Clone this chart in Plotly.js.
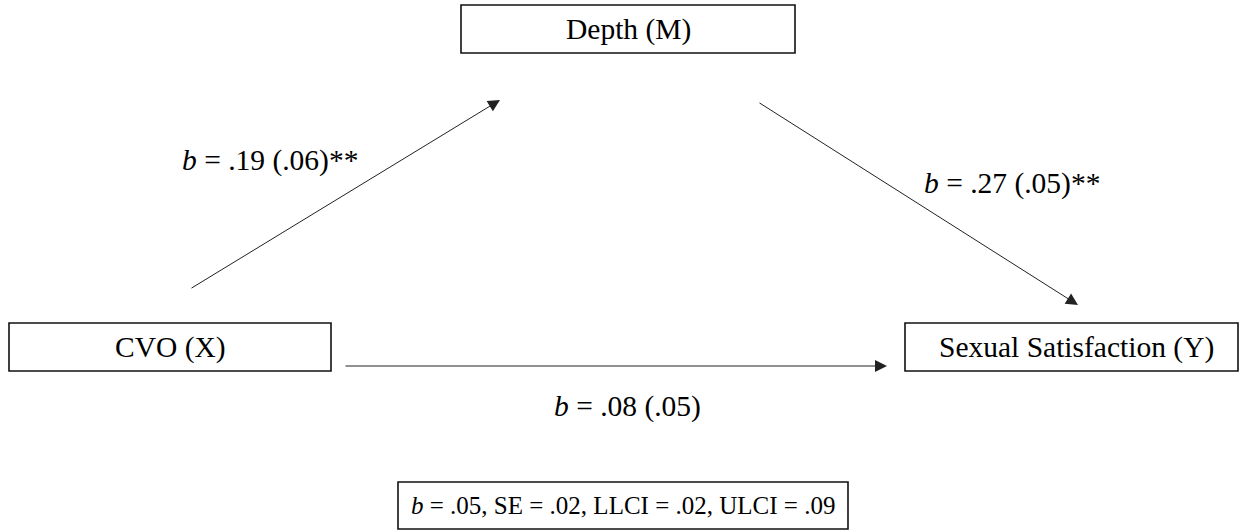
<!DOCTYPE html>
<html>
<head>
<meta charset="utf-8">
<script src="https://cdn.plot.ly/plotly-3.0.1.min.js"></script>
<style>html,body{margin:0;padding:0;background:#fff}#chart{width:1246px;height:531px}</style>
</head>
<body>
<div id="chart"></div>
<script>
// ---- data ----
const nodeLabels = ['CVO (X)', 'Depth (M)', 'Sexual Satisfaction (Y)'];
const pathFrom = [0, 1, 0];
const pathTo = [1, 2, 2];
const pathB = [0.19, 0.27, 0.08];
const pathSE = [0.06, 0.05, 0.05];
const pathSig = ['**', '**', ''];
const indirectStat = ['b', 'SE', 'LLCI', 'ULCI'];
const indirectVal = [0.05, 0.02, 0.02, 0.09];

// ---- layout geometry (pixels in a 1246x531 canvas) ----
const W = 1246, H = 531;
const boxes = [
  {x0: 9, x1: 331, y0: 323, y1: 371, dx: 0},
  {x0: 461, x1: 795, y0: 5, y1: 53, dx: 0},
  {x0: 905, x1: 1238, y0: 323, y1: 371, dx: 5}
];
const indirectBox = {x0: 398, x1: 848, y0: 482, y1: 529};
const arrows = [
  {tx: 190, ty: 289, hx: 500, hy: 100},
  {tx: 758, ty: 102, hx: 1078, hy: 305},
  {tx: 344, ty: 366, hx: 887, hy: 366}
];
const labelPos = [
  {x: 270, y: 160},
  {x: 1012, y: 183},
  {x: 627, y: 406}
];
const FAMILY = 'Liberation Serif';
const FONT = {family: FAMILY, size: 29.5, color: '#000'};
const FONT_SMALL = {family: FAMILY, size: 25, color: '#000'};

function fmt(v) { return v.toFixed(2).replace(/^0/, ''); }
function statName(s) { return s === 'b' ? '<i>b</i>' : s; }

const shapes = [];
const annotations = [];

boxes.forEach((b, i) => {
  shapes.push({type: 'rect', xref: 'x', yref: 'y', x0: b.x0, x1: b.x1, y0: b.y0, y1: b.y1,
    line: {color: '#111', width: 1.6}, fillcolor: 'rgba(0,0,0,0)'});
  annotations.push({x: (b.x0 + b.x1) / 2 + b.dx, y: (b.y0 + b.y1) / 2, xref: 'x', yref: 'y',
    text: nodeLabels[i], showarrow: false, font: FONT, xanchor: 'center', yanchor: 'middle'});
});

shapes.push({type: 'rect', xref: 'x', yref: 'y', x0: indirectBox.x0, x1: indirectBox.x1,
  y0: indirectBox.y0, y1: indirectBox.y1, line: {color: '#111', width: 1.6}, fillcolor: 'rgba(0,0,0,0)'});
annotations.push({x: (indirectBox.x0 + indirectBox.x1) / 2, y: (indirectBox.y0 + indirectBox.y1) / 2,
  xref: 'x', yref: 'y', showarrow: false, font: FONT_SMALL, xanchor: 'center', yanchor: 'middle',
  text: indirectStat.map((s, i) => statName(s) + ' = ' + fmt(indirectVal[i])).join(', ')});

pathB.forEach((v, i) => {
  const a = arrows[i];
  annotations.push({x: a.hx, y: a.hy, ax: a.tx, ay: a.ty, xref: 'x', yref: 'y', axref: 'x', ayref: 'y',
    text: '', showarrow: true, arrowhead: 2, arrowsize: 2.4, arrowwidth: 1, arrowcolor: '#222', standoff: 0});
  annotations.push({x: labelPos[i].x, y: labelPos[i].y, xref: 'x', yref: 'y', showarrow: false,
    font: FONT, xanchor: 'center', yanchor: 'middle',
    text: '<i>b</i> = ' + fmt(v) + ' (' + fmt(pathSE[i]) + ')' + pathSig[i]});
});

const layout = {
  width: W, height: H,
  margin: {l: 0, r: 0, t: 0, b: 0},
  paper_bgcolor: '#fff', plot_bgcolor: '#fff',
  font: {family: FAMILY},
  xaxis: {range: [0, W], visible: false, fixedrange: true},
  yaxis: {range: [H, 0], visible: false, fixedrange: true},
  shapes: shapes,
  annotations: annotations,
  showlegend: false
};

Plotly.newPlot('chart', [{x: [], y: [], type: 'scatter', mode: 'markers', hoverinfo: 'skip'}], layout,
  {staticPlot: true, displayModeBar: false});
</script>
</body>
</html>
